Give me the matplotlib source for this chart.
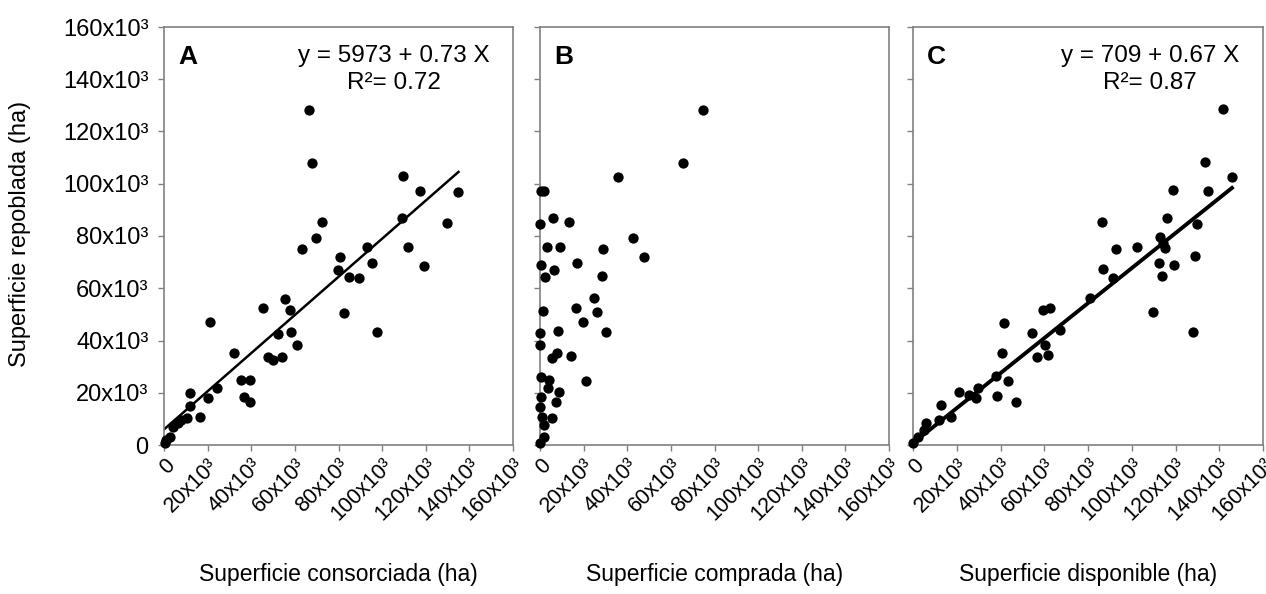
import matplotlib
matplotlib.use("Agg")
import matplotlib.pyplot as plt
import numpy as np
from matplotlib.ticker import FuncFormatter, MultipleLocator

plt.rcParams['font.family'] = ['Liberation Sans', 'DejaVu Sans']

# ---- data (ha) ----
a_x = [66.6, 67.7, 72.3, 69.5, 63.4, 109.7, 117.4, 134.9, 109.3, 129.6, 112.0, 95.2,
       119.2, 97.5, 93.2, 80.7, 79.9, 84.8, 89.4, 82.7, 55.5, 57.8, 45.5, 52.4, 58.1,
       60.8, 47.7, 50.0, 53.9, 32.1, 21.1, 24.4, 20.2, 35.5, 39.3, 36.7, 39.3, 11.8,
       12.1, 16.4, 10.7, 6.4, 4.1, 2.6, 0.3, 1.0, 8.0]
a_y = [128.2, 108.1, 85.2, 79.1, 74.9, 103.0, 97.3, 97.0, 86.8, 84.9, 75.7, 69.6,
       68.6, 43.4, 75.9, 72.1, 67.0, 64.4, 64.1, 50.7, 55.8, 51.7, 52.3, 42.5, 43.4,
       38.3, 33.8, 32.5, 33.8, 35.1, 47.2, 21.7, 17.9, 24.9, 24.9, 18.5, 16.6, 20.0,
       14.9, 10.8, 10.2, 8.3, 7.0, 3.2, 0.8, 1.9, 9.5]

b_x = [74.6, 65.4, 35.6, 0.3, 1.8, 5.8, 13.4, 0.0, 42.8, 3.3, 9.2, 28.7, 47.8, 17.1,
       0.3, 6.4, 2.1, 28.6, 24.8, 1.5, 16.7, 26.3, 19.9, 30.1, 8.3, 0.0, 0.0, 5.6,
       7.9, 14.1, 20.9, 0.3, 4.1, 8.7, 7.2, 0.3, 0.0, 1.1, 5.6, 1.8, 1.8, 0.0, 3.5]
b_y = [128.2, 108.1, 102.7, 97.3, 97.3, 86.8, 85.5, 84.6, 79.1, 75.7, 75.7, 74.9, 72.1,
       69.6, 68.9, 67.0, 64.2, 64.7, 56.2, 51.4, 52.3, 50.8, 47.2, 43.4, 43.7, 42.8,
       38.3, 33.2, 35.1, 34.1, 24.6, 25.9, 24.9, 20.4, 16.6, 18.5, 14.7, 10.8, 10.2,
       7.7, 3.2, 0.9, 22.0]

c_x = [141.6, 133.5, 145.7, 118.7, 135.0, 86.3, 116.0, 129.7, 112.9, 114.4, 115.2, 92.8,
       102.5, 128.9, 112.6, 119.3, 87.0, 91.6, 113.7, 80.9, 109.6, 127.9, 59.3, 62.6,
       67.2, 54.3, 60.3, 61.9, 56.5, 41.8, 40.5, 43.3, 38.3, 47.1, 37.9, 29.6, 28.8,
       21.2, 12.8, 17.4, 12.0, 5.9, 5.2, 2.1, 0.0, 25.8]
c_y = [128.5, 108.2, 102.7, 97.6, 97.2, 85.5, 87.0, 84.6, 79.5, 77.2, 75.3, 74.9,
       75.9, 72.5, 69.8, 68.9, 67.2, 63.8, 64.8, 56.4, 50.8, 43.4, 51.7, 52.3,
       44.0, 42.8, 38.3, 34.4, 33.8, 46.8, 35.1, 24.6, 18.8, 16.6, 26.4, 21.7, 17.9,
       20.4, 15.3, 10.8, 9.6, 8.5, 5.7, 3.2, 0.9, 19.1]

fits = {"A": (5973, 0.73, 0, 135000), "C": (709, 0.67, 0, 145800)}
eq_text = {"A": "y = 5973 + 0.73 X\nR²= 0.72", "C": "y = 709 + 0.67 X\nR²= 0.87"}
eq_x = {"A": 0.658, "C": 0.677}
x_labels = ["Superficie consorciada (ha)", "Superficie comprada (ha)",
            "Superficie disponible (ha)"]
y_label = "Superficie repoblada (ha)"
panels = ["A", "B", "C"]
series = [(a_x, a_y), (b_x, b_y), (c_x, c_y)]

W, H = 1266, 594
fig = plt.figure(figsize=(W / 100, H / 100), dpi=100)
boxes = [(164, 349), (540, 349), (913, 350)]
top, bottom = 27, 445

def fmt(v, pos):
    if abs(v) < 1:
        return "0"
    return f"{int(round(v / 1000))}x10³"

gray = "#808080"
for i, (name, (xs, ys), (left, wid)) in enumerate(zip(panels, series, boxes)):
    ax = fig.add_axes([left / W, (H - bottom) / H, wid / W, (bottom - top) / H])
    xs = np.array(xs) * 1000
    ys = np.array(ys) * 1000
    ax.scatter(xs, ys, s=55, color="black", zorder=3, clip_on=False, linewidths=0)
    if name in fits:
        b0, b1, x0, x1 = fits[name]
        xx = np.array([x0, x1])
        ax.plot(xx, b0 + b1 * xx, color="black", lw=1.8 if name == "A" else 2.8, zorder=2)
        ax.text(eq_x[name], 0.957, eq_text[name], transform=ax.transAxes, ha="center",
                va="top", fontsize=17.5, linespacing=1.3)
    ax.text(0.04, 0.957, name, transform=ax.transAxes, ha="left", va="top",
            fontsize=19, fontweight="bold")
    ax.set_xlim(0, 160000)
    ax.set_ylim(0, 160000)
    ax.xaxis.set_major_locator(MultipleLocator(20000))
    ax.yaxis.set_major_locator(MultipleLocator(20000))
    ax.xaxis.set_major_formatter(FuncFormatter(fmt))
    ax.yaxis.set_major_formatter(FuncFormatter(fmt))
    for s in ax.spines.values():
        s.set_color(gray)
        s.set_linewidth(1.2)
    ax.tick_params(direction="out", length=4, width=1.0, color=gray, pad=3)
    ax.tick_params(axis="x", labelsize=15.5)
    ax.tick_params(axis="y", labelsize=17, pad=7)
    for lab in ax.get_xticklabels():
        lab.set_rotation(45)
        lab.set_ha("right")
        lab.set_va("top")
        lab.set_rotation_mode("anchor")
    if i != 0:
        ax.tick_params(axis="y", labelleft=False)
    fig.text((left + wid / 2) / W, (H - 575) / H, x_labels[i], ha="center",
             va="center", fontsize=16.5)

fig.text(20 / W, (H - 234) / H, y_label, rotation=90, ha="center", va="center",
         fontsize=17)

fig.savefig("out.png", dpi=100)
